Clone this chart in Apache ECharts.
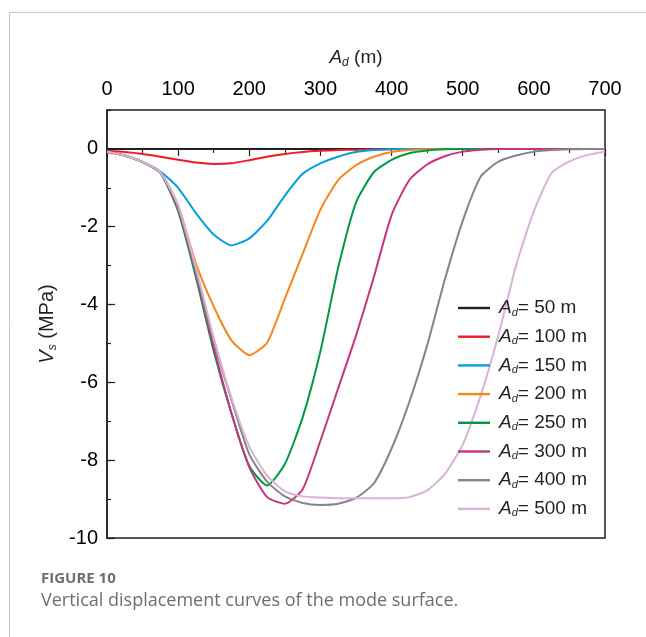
<!DOCTYPE html>
<html>
<head>
<meta charset="utf-8">
<script src="https://cdn.jsdelivr.net/npm/echarts@6/dist/echarts.min.js"></script>
<style>
    html, body { margin: 0; padding: 0; background: #fff; }
    #container { width: 646px; height: 637px; }
</style>
</head>
<body>
<div id="container"></div>
<script>
// A_d (m) sample positions along the profile
var xVals = [0, 25, 50, 75, 100, 125, 150, 175, 200, 225, 250, 275, 300, 325, 350,
             375, 400, 425, 450, 475, 500, 525, 550, 575, 600, 625, 650, 675, 700];
var xTicks = [0, 100, 200, 300, 400, 500, 600, 700];
var yTicks = [0, -2, -4, -6, -8, -10];

var names = ['50', '100', '150', '200', '250', '300', '400', '500'];
var colors = ['#231f20', '#ed1c24', '#00a0e0', '#f7861c', '#009a44', '#c7337f', '#858585', '#d8b2d8'];

// V_s (MPa)
var ad50  = [0, 0, 0, 0, 0, 0, 0, 0, 0, 0, 0, 0, 0, 0, 0, 0, 0, 0, 0, 0, 0, 0, 0, 0, 0, 0, 0, 0, 0];
var ad100 = [-0.05, -0.08, -0.13, -0.2, -0.28, -0.35, -0.385, -0.37, -0.29, -0.2, -0.13, -0.08, -0.05, -0.03, -0.02,
             -0.01, 0, 0, 0, 0, 0, 0, 0, 0, 0, 0, 0, 0, 0];
var ad150 = [-0.07, -0.17, -0.34, -0.58, -1.0, -1.65, -2.2, -2.48, -2.3, -1.85, -1.2, -0.64, -0.37, -0.2, -0.08,
             -0.03, -0.01, 0, 0, 0, 0, 0, 0, 0, 0, 0, 0, 0, 0];
var ad200 = [-0.09, -0.17, -0.34, -0.6, -1.45, -2.95, -4.05, -4.92, -5.3, -4.98, -3.85, -2.7, -1.56, -0.8, -0.42,
             -0.2, -0.08, -0.03, -0.01, 0, 0, 0, 0, 0, 0, 0, 0, 0, 0];
var ad250 = [-0.07, -0.17, -0.34, -0.62, -1.6, -3.3, -5.2, -6.8, -8.15, -8.65, -8.1, -6.9, -5.2, -3.05, -1.38,
             -0.6, -0.28, -0.11, -0.04, -0.01, 0, 0, 0, 0, 0, 0, 0, 0, 0];
var ad300 = [-0.07, -0.17, -0.34, -0.6, -1.55, -3.2, -5.1, -6.8, -8.18, -8.95, -9.12, -8.75, -7.5, -6.15, -4.8,
             -3.3, -1.7, -0.8, -0.4, -0.19, -0.07, -0.02, 0, 0, 0, 0, 0, 0, 0];
var ad400 = [-0.07, -0.17, -0.34, -0.6, -1.5, -3.15, -4.95, -6.45, -7.85, -8.55, -8.93, -9.1, -9.15, -9.12, -8.97,
             -8.6, -7.7, -6.5, -5.05, -3.35, -1.85, -0.72, -0.33, -0.17, -0.07, -0.03, -0.01, 0, 0];
var ad500 = [-0.07, -0.17, -0.34, -0.6, -1.45, -3.05, -4.85, -6.4, -7.65, -8.4, -8.8, -8.93, -8.96, -8.98, -8.98,
             -8.98, -8.98, -8.95, -8.78, -8.35, -7.6, -6.35, -4.8, -3.0, -1.6, -0.62, -0.32, -0.16, -0.07];
var curves = [ad50, ad100, ad150, ad200, ad250, ad300, ad400, ad500];

var axisColor = '#231f20';
var labelFont = 'Liberation Sans, Arial, sans-serif';

var seriesList = [];
for (let i = 0; i < curves.length; i++) {
    let pts = [];
    for (let j = 0; j < xVals.length; j++) {
        pts.push([xVals[j], curves[i][j]]);
    }
    seriesList.push({
        name: names[i],
        type: 'line',
        data: pts,
        symbol: 'none',
        smooth: 0.2,
        lineStyle: { width: 2, color: colors[i] },
        itemStyle: { color: colors[i] },
        z: 2
    });
}

var myChart = echarts.init(document.getElementById('container'));
var options = {
    animation: false,
    backgroundColor: '#fff',
    textStyle: { fontFamily: labelFont },
    grid: {
        left: 107, right: 41, top: 110, bottom: 99,
        show: true, borderColor: axisColor, borderWidth: 1.5
    },
    legend: {
        orient: 'vertical',
        left: 453,
        top: 293,
        itemWidth: 32,
        itemHeight: 14,
        itemGap: 8.7,
        data: names.map(function (n, i) {
            return { name: n, icon: 'path://M0,0H32V2.4H0Z', itemStyle: { color: colors[i] } };
        }),
        formatter: function (n) {
            return '{a|A}{d|d}{t|= ' + n + ' m}';
        },
        textStyle: {
            color: axisColor,
            rich: {
                a: { fontStyle: 'italic', fontSize: 19, fontFamily: labelFont, color: axisColor, padding: [0, 0, 0, 4], lineHeight: 22 },
                d: { fontStyle: 'italic', fontSize: 11, fontFamily: labelFont, color: axisColor, padding: [9, 0, 0, 0], lineHeight: 20 },
                t: { fontSize: 19, fontFamily: labelFont, color: axisColor, lineHeight: 22 }
            }
        }
    },
    xAxis: {
        type: 'value',
        position: 'top',
        min: 0,
        max: 700,
        interval: 100,
        name: '{i|A}{s|d}{n| (m)}',
        nameLocation: 'middle',
        nameGap: 41,
        nameTextStyle: {
            rich: {
                i: { fontStyle: 'italic', fontSize: 19, color: axisColor, fontFamily: labelFont },
                s: { fontStyle: 'italic', fontSize: 12, color: axisColor, fontFamily: labelFont, padding: [10, 0, 0, 0] },
                n: { fontSize: 19, color: axisColor, fontFamily: labelFont }
            }
        },
        axisLine: { show: true, lineStyle: { color: axisColor, width: 1.5 } },
        axisTick: { show: true, inside: true, length: 7, lineStyle: { color: axisColor, width: 1.2 } },
        minorTick: { show: true, splitNumber: 2, length: 4, lineStyle: { color: axisColor, width: 1.2 } },
        axisLabel: {
            fontSize: 20, color: '#000', margin: 11, fontFamily: labelFont,
            formatter: function (v) { return xTicks.indexOf(v) >= 0 ? String(v) : ''; }
        },
        splitLine: { show: false }
    },
    yAxis: [
        {
            type: 'value',
            position: 'left',
            min: -10,
            max: 1,
            interval: 2,
            name: '{i|V}{s|s}{n| (MPa)}',
            nameLocation: 'middle',
            nameGap: 48,
            nameTextStyle: {
                rich: {
                    i: { fontStyle: 'italic', fontSize: 20, color: axisColor, fontFamily: labelFont },
                    s: { fontStyle: 'italic', fontSize: 12, color: axisColor, fontFamily: labelFont, padding: [10, 0, 0, 0] },
                    n: { fontSize: 20, color: axisColor, fontFamily: labelFont }
                }
            },
            axisLine: { show: true, lineStyle: { color: axisColor, width: 1.5 } },
            axisTick: { show: true, inside: true, length: 8, lineStyle: { color: axisColor, width: 1.2 } },
            axisLabel: {
                fontSize: 20, color: '#000', margin: 9, fontFamily: labelFont, showMaxLabel: false,
                formatter: function (v) { return yTicks.indexOf(v) >= 0 ? String(v) : ''; }
            },
            splitLine: { show: false }
        },
        {
            // minor ticks on the left edge (one every 1 MPa)
            type: 'value',
            position: 'right',
            offset: -498,
            min: -10,
            max: 1,
            interval: 1,
            axisLine: { show: false },
            axisTick: { show: true, inside: false, length: 4, lineStyle: { color: axisColor, width: 1.2 } },
            axisLabel: { show: false },
            splitLine: { show: false }
        }
    ],
    graphic: [
        {
            type: 'polyline',
            shape: { points: [[9.5, 637], [9.5, 12.5], [646, 12.5]] },
            style: { stroke: '#c8c8c8', lineWidth: 1, fill: null },
            silent: true
        },
        {
            type: 'text',
            left: 41,
            top: 571,
            style: { text: 'FIGURE 10', font: 'bold 15px "Open Sans", sans-serif', fill: '#6e6e6e' }
        },
        {
            type: 'text',
            left: 41,
            top: 592,
            style: { text: 'Vertical displacement curves of the mode surface.', font: '18px "Open Sans", sans-serif', fill: '#6e6e6e' }
        }
    ],
    series: seriesList
};
myChart.setOption(options, true);
</script>
</body>
</html>
